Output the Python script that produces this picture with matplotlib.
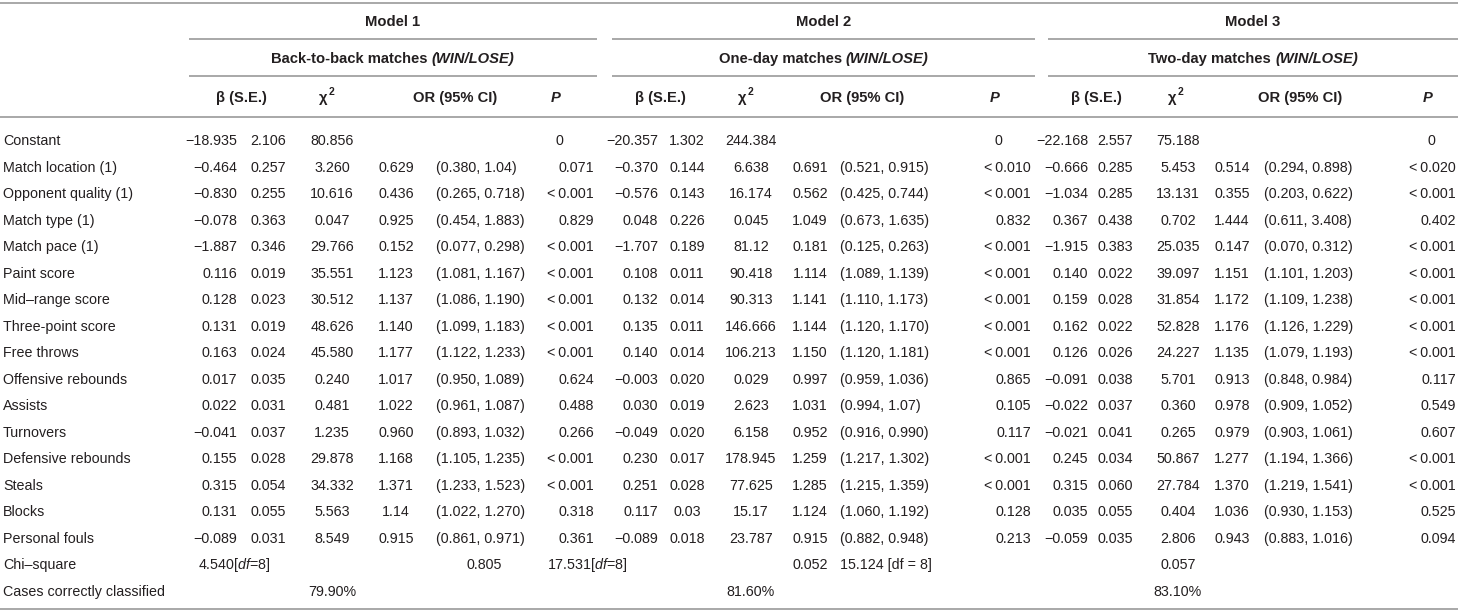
import matplotlib
matplotlib.use("Agg")
import matplotlib.pyplot as plt

plt.rcParams['font.family'] = ['Liberation Sans', 'DejaVu Sans']
plt.rcParams['mathtext.fontset'] = 'custom'
plt.rcParams['mathtext.rm'] = 'Liberation Sans'
plt.rcParams['mathtext.it'] = 'Liberation Sans:italic'

# ---- table content ----
row_labels = ["Constant", "Match location (1)", "Opponent quality (1)", "Match type (1)",
              "Match pace (1)", "Paint score", "Mid\u2013range score", "Three-point score",
              "Free throws", "Offensive rebounds", "Assists", "Turnovers",
              "Defensive rebounds", "Steals", "Blocks", "Personal fouls",
              "Chi\u2013square", "Cases correctly classified"]

model_titles = ["Model 1", "Model 2", "Model 3"]
model_subtitles = ["Back-to-back matches", "One-day matches", "Two-day matches"]

m1_beta = ["\u221218.935", "\u22120.464", "\u22120.830", "\u22120.078", "\u22121.887", "0.116", "0.128",
           "0.131", "0.163", "0.017", "0.022", "\u22120.041", "0.155", "0.315", "0.131", "\u22120.089"]
m1_se = ["2.106", "0.257", "0.255", "0.363", "0.346", "0.019", "0.023", "0.019", "0.024",
         "0.035", "0.031", "0.037", "0.028", "0.054", "0.055", "0.031"]
m1_chi = ["80.856", "3.260", "10.616", "0.047", "29.766", "35.551", "30.512", "48.626",
          "45.580", "0.240", "0.481", "1.235", "29.878", "34.332", "5.563", "8.549"]
m1_or = ["", "0.629", "0.436", "0.925", "0.152", "1.123", "1.137", "1.140", "1.177",
         "1.017", "1.022", "0.960", "1.168", "1.371", "1.14", "0.915"]
m1_ci = ["", "(0.380, 1.04)", "(0.265, 0.718)", "(0.454, 1.883)", "(0.077, 0.298)",
         "(1.081, 1.167)", "(1.086, 1.190)", "(1.099, 1.183)", "(1.122, 1.233)",
         "(0.950, 1.089)", "(0.961, 1.087)", "(0.893, 1.032)", "(1.105, 1.235)",
         "(1.233, 1.523)", "(1.022, 1.270)", "(0.861, 0.971)"]
m1_p = ["0", "0.071", "<0.001", "0.829", "<0.001", "<0.001", "<0.001", "<0.001", "<0.001",
        "0.624", "0.488", "0.266", "<0.001", "<0.001", "0.318", "0.361"]

m2_beta = ["\u221220.357", "\u22120.370", "\u22120.576", "0.048", "\u22121.707", "0.108", "0.132",
           "0.135", "0.140", "\u22120.003", "0.030", "\u22120.049", "0.230", "0.251", "0.117", "\u22120.089"]
m2_se = ["1.302", "0.144", "0.143", "0.226", "0.189", "0.011", "0.014", "0.011", "0.014",
         "0.020", "0.019", "0.020", "0.017", "0.028", "0.03", "0.018"]
m2_chi = ["244.384", "6.638", "16.174", "0.045", "81.12", "90.418", "90.313", "146.666",
          "106.213", "0.029", "2.623", "6.158", "178.945", "77.625", "15.17", "23.787"]
m2_or = ["", "0.691", "0.562", "1.049", "0.181", "1.114", "1.141", "1.144", "1.150",
         "0.997", "1.031", "0.952", "1.259", "1.285", "1.124", "0.915"]
m2_ci = ["", "(0.521, 0.915)", "(0.425, 0.744)", "(0.673, 1.635)", "(0.125, 0.263)",
         "(1.089, 1.139)", "(1.110, 1.173)", "(1.120, 1.170)", "(1.120, 1.181)",
         "(0.959, 1.036)", "(0.994, 1.07)", "(0.916, 0.990)", "(1.217, 1.302)",
         "(1.215, 1.359)", "(1.060, 1.192)", "(0.882, 0.948)"]
m2_p = ["0", "<0.010", "<0.001", "0.832", "<0.001", "<0.001", "<0.001", "<0.001", "<0.001",
        "0.865", "0.105", "0.117", "<0.001", "<0.001", "0.128", "0.213"]

m3_beta = ["\u221222.168", "\u22120.666", "\u22121.034", "0.367", "\u22121.915", "0.140", "0.159",
           "0.162", "0.126", "\u22120.091", "\u22120.022", "\u22120.021", "0.245", "0.315", "0.035", "\u22120.059"]
m3_se = ["2.557", "0.285", "0.285", "0.438", "0.383", "0.022", "0.028", "0.022", "0.026",
         "0.038", "0.037", "0.041", "0.034", "0.060", "0.055", "0.035"]
m3_chi = ["75.188", "5.453", "13.131", "0.702", "25.035", "39.097", "31.854", "52.828",
          "24.227", "5.701", "0.360", "0.265", "50.867", "27.784", "0.404", "2.806"]
m3_or = ["", "0.514", "0.355", "1.444", "0.147", "1.151", "1.172", "1.176", "1.135",
         "0.913", "0.978", "0.979", "1.277", "1.370", "1.036", "0.943"]
m3_ci = ["", "(0.294, 0.898)", "(0.203, 0.622)", "(0.611, 3.408)", "(0.070, 0.312)",
         "(1.101, 1.203)", "(1.109, 1.238)", "(1.126, 1.229)", "(1.079, 1.193)",
         "(0.848, 0.984)", "(0.909, 1.052)", "(0.903, 1.061)", "(1.194, 1.366)",
         "(1.219, 1.541)", "(0.930, 1.153)", "(0.883, 1.016)"]
m3_p = ["0", "<0.020", "<0.001", "0.402", "<0.001", "<0.001", "<0.001", "<0.001", "<0.001",
        "0.117", "0.549", "0.607", "<0.001", "<0.001", "0.525", "0.094"]

chi_square_vals = ["4.540", "0.805", "17.531", "0.052", "15.124", "0.057"]
cases_classified = ["79.90%", "81.60%", "83.10%"]

# ---- layout (pixel coordinates) ----
W, H = 1458, 613
TXT = "#231f20"
RULE = "#a8a8a8"
FS = 10.3
FS_HEAD = 10.6

fig = plt.figure(figsize=(W / 100, H / 100), dpi=100)
ax = fig.add_axes([0, 0, 1, 1])
ax.set_xlim(0, W)
ax.set_ylim(H, 0)
ax.axis("off")
renderer = fig.canvas.get_renderer()

# column anchors per model: beta(right), se(center), chi(center), or(center), ci(left), p(right)
# h* = header centres
cols = [
    dict(beta=237, se=268, chi=332, orr=396, ci=436, p=594,
         hb=241, hchi=327, hor=455, hp=556, line=(189, 597)),
    dict(beta=658, se=687, chi=751, orr=810, ci=840, p=1031,
         hb=660, hchi=746, hor=862, hp=995, line=(612, 1035)),
    dict(beta=1088, se=1115, chi=1178, orr=1232, ci=1264, p=1456,
         hb=1096, hchi=1176, hor=1300, hp=1428, line=(1048, 1458)),
]
models = [
    (m1_beta, m1_se, m1_chi, m1_or, m1_ci, m1_p),
    (m2_beta, m2_se, m2_chi, m2_or, m2_ci, m2_p),
    (m3_beta, m3_se, m3_chi, m3_or, m3_ci, m3_p),
]

y_title, y_sub, y_head = 21, 58, 97
y_row0, dy = 140, 26.5


def put(x, y, s, ha="left", **kw):
    kw.setdefault("color", TXT)
    kw.setdefault("fontsize", FS)
    base = kw["fontsize"] / 72 * 100 * 0.36   # half cap height -> baseline
    return ax.text(x, y + base, s.replace("<", "<\u2009"), ha=ha, va="baseline", **kw)


def runs(x, y, parts, ha="left", gap=0):
    objs = [put(0, y + dyp, t, **kw) for t, dyp, kw in parts]
    widths = [o.get_window_extent(renderer).width for o in objs]
    total = sum(widths) + gap * (len(objs) - 1)
    start = {"left": x, "center": x - total / 2, "right": x - total}[ha]
    for o, w in zip(objs, widths):
        o.set_x(start)
        start += w + gap


def hline(y, x0=0, x1=W, lw=1.4):
    ax.plot([x0, x1], [y, y], color=RULE, lw=lw, solid_capstyle="butt")


# rules
hline(3)
hline(117)
hline(609)
for c in cols:
    hline(39, *c["line"])
    hline(76, *c["line"])

bold = dict(fontweight="bold", fontsize=FS_HEAD)
bi = dict(fontweight="bold", fontstyle="italic", fontsize=FS_HEAD)
sup = dict(fontweight="bold", fontsize=7.5)
for c, title, sub in zip(cols, model_titles, model_subtitles):
    mid = (c["line"][0] + c["line"][1]) / 2
    put(mid, y_title, title, ha="center", **bold)
    runs(mid, y_sub, [(sub, 0, bold), ("(WIN/LOSE)", 0, bi)], ha="center", gap=4)
    put(c["hb"], y_head, "\u03b2 (S.E.)", ha="center", **bold)
    runs(c["hchi"], y_head, [("\u03c7", 0, bold), ("2", -6, sup)], ha="center", gap=1)
    put(c["hor"], y_head, "OR (95% CI)", ha="center", **bold)
    put(c["hp"], y_head, "P", ha="center", **bi)

# row labels
for i, lab in enumerate(row_labels):
    put(3, y_row0 + i * dy, lab)

# body
for c, (beta, se, chi, orr, ci, p) in zip(cols, models):
    for i in range(len(beta)):
        y = y_row0 + i * dy
        put(c["beta"], y, beta[i], ha="right")
        put(c["se"], y, se[i], ha="center")
        put(c["chi"], y, chi[i], ha="center")
        if orr[i]:
            put(c["orr"], y, orr[i], ha="center")
            put(c["ci"], y, ci[i], ha="left")
        if p[i] == "0":
            put(c["hp"] + 3, y, p[i], ha="center")
        else:
            put(c["p"], y, p[i], ha="right")

# chi-square row
y_chi = y_row0 + 16 * dy
put(198, y_chi, chi_square_vals[0] + r"[$\mathit{df}$=8]")
put(502, y_chi, chi_square_vals[1], ha="right")
put(547, y_chi, chi_square_vals[2] + r"[$\mathit{df}$=8]")
put(cols[1]["orr"], y_chi, chi_square_vals[3], ha="center")
put(cols[1]["ci"], y_chi, chi_square_vals[4] + " [df = 8]", ha="left")
put(cols[2]["chi"], y_chi, chi_square_vals[5], ha="center")

# cases correctly classified row
y_cases = y_row0 + 17 * dy
for c, val in zip(cols, cases_classified):
    put(c["chi"], y_cases, val, ha="center")

fig.savefig("out.png", dpi=100)
